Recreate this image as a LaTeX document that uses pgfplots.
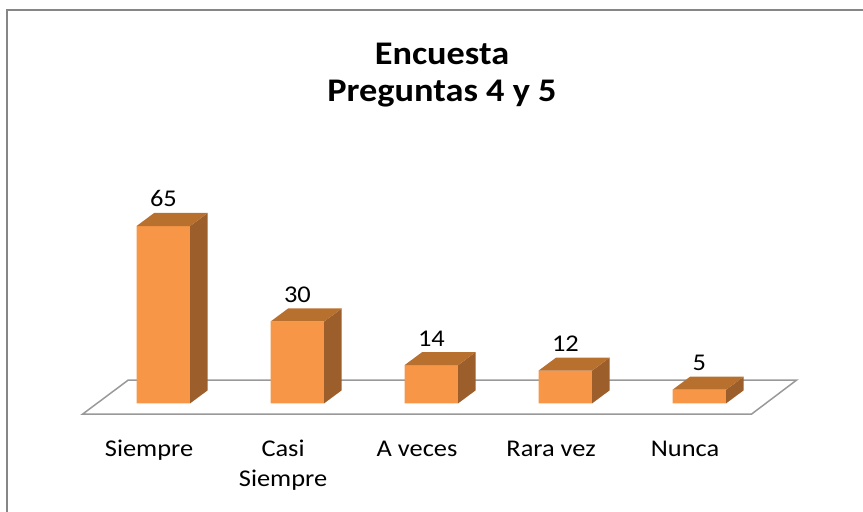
\documentclass[border=0pt]{standalone}
\usepackage{fontspec}
\setmainfont{Carlito}[FakeStretch=1.1]
\usepackage{pgfplots}
\pgfplotsset{compat=1.18}
\definecolor{front}{HTML}{F79646}
\definecolor{topc}{HTML}{B8702F}
\definecolor{side}{HTML}{9C5E2B}
\definecolor{floorc}{HTML}{999999}
\definecolor{framec}{HTML}{868686}
\begin{document}
\begin{tikzpicture}
\useasboundingbox (0,0) rectangle (863bp,512bp);
\draw[line width=2bp, framec] (7bp,0) -- (7bp,502bp) -- (864bp,502bp);
\node[anchor=base, font=\fontsize{33bp}{38bp}\selectfont\bfseries] at (442bp,447bp) {Encuesta};
\node[anchor=base, font=\fontsize{33bp}{38bp}\selectfont\bfseries] at (442bp,410.3bp) {Preguntas 4 y 5};
\begin{axis}[
  at={(29.4bp,81.4bp)}, anchor=south west,
  scale only axis, width=804bp, height=245.52bp,
  xmin=-1, xmax=5, ymin=-10, ymax=80,
  clip=false,
  hide y axis,
  axis x line*=bottom,
  x axis line style={draw=none},
  major tick length=0pt,
  /pgf/number format/assume math mode=true,
  xtick={-0.107,0.893,1.893,2.893,3.893},
  xticklabels={Siempre,{\begin{tabular}[t]{@{}c@{}}Casi\\Siempre\end{tabular}},A veces,Rara vez,Nunca},
  xticklabel style={font=\fontsize{24bp}{30bp}\selectfont, anchor=base, inner sep=0pt, yshift=-26.1bp},
]
% floor
\addplot[sharp plot, draw=floorc, line width=1.5bp, no marks]
  coordinates {(-0.602,-3.92) (4.390,-3.92) (4.726,8.54) (-0.262,8.54)} --cycle;
% front faces
\addplot[ybar, bar width=0.4, fill=front, draw=none,
  nodes near coords,
  nodes near coords style={font=\fontsize{24bp}{30bp}\selectfont, anchor=base, inner sep=0pt, yshift=19bp, text=black}]
  coordinates {(0,65) (1,30) (2,14) (3,12) (4,5)};
% side faces
\addplot[sharp plot, fill=side, draw=none, no marks] coordinates {(0.2,0) (0.3306,4.766) (0.3306,69.766) (0.2,65)} --cycle;
\addplot[sharp plot, fill=side, draw=none, no marks] coordinates {(1.2,0) (1.3306,4.766) (1.3306,34.766) (1.2,30)} --cycle;
\addplot[sharp plot, fill=side, draw=none, no marks] coordinates {(2.2,0) (2.3306,4.766) (2.3306,18.766) (2.2,14)} --cycle;
\addplot[sharp plot, fill=side, draw=none, no marks] coordinates {(3.2,0) (3.3306,4.766) (3.3306,16.766) (3.2,12)} --cycle;
\addplot[sharp plot, fill=side, draw=none, no marks] coordinates {(4.2,0) (4.3306,4.766) (4.3306,9.766) (4.2,5)} --cycle;
% top faces
\addplot[sharp plot, fill=topc, draw=none, no marks] coordinates {(-0.2,65) (0.2,65) (0.3306,69.766) (-0.0694,69.766)} --cycle;
\addplot[sharp plot, fill=topc, draw=none, no marks] coordinates {(0.8,30) (1.2,30) (1.3306,34.766) (0.9306,34.766)} --cycle;
\addplot[sharp plot, fill=topc, draw=none, no marks] coordinates {(1.8,14) (2.2,14) (2.3306,18.766) (1.9306,18.766)} --cycle;
\addplot[sharp plot, fill=topc, draw=none, no marks] coordinates {(2.8,12) (3.2,12) (3.3306,16.766) (2.9306,16.766)} --cycle;
\addplot[sharp plot, fill=topc, draw=none, no marks] coordinates {(3.8,5) (4.2,5) (4.3306,9.766) (3.9306,9.766)} --cycle;
\end{axis}
\end{tikzpicture}
\end{document}
